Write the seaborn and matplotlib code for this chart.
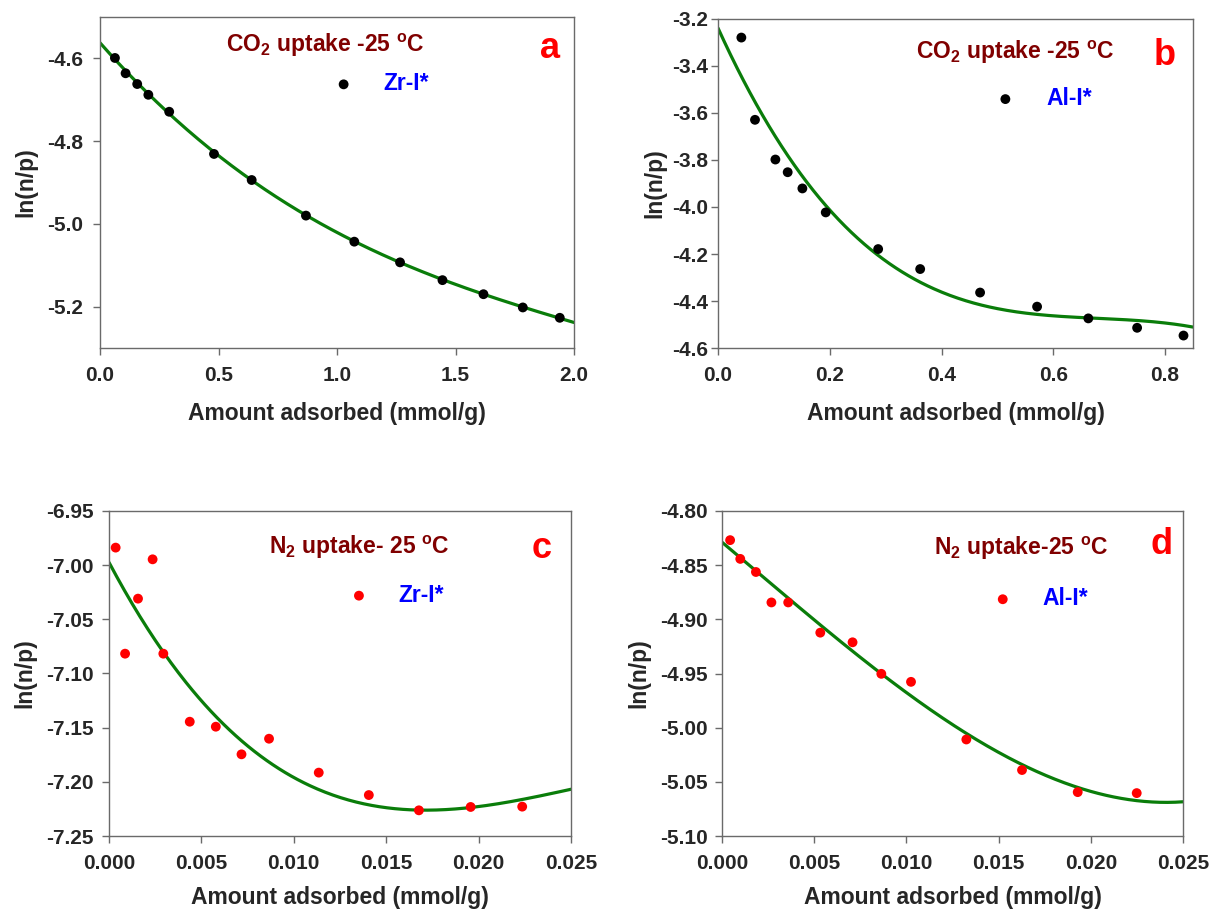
import numpy as np
import pandas as pd
import matplotlib
matplotlib.use("Agg")
import matplotlib.pyplot as plt
import seaborn as sns

# ---------------- data ----------------
a_x = [0.063, 0.108, 0.157, 0.204, 0.292, 0.481, 0.640, 0.869, 1.073, 1.266, 1.445, 1.618, 1.784, 1.940]
a_y = [-4.599, -4.636, -4.662, -4.688, -4.729, -4.831, -4.894, -4.980, -5.043, -5.093, -5.136, -5.170, -5.202, -5.227]
a_fit_x = [0.0, 0.25, 0.5, 0.75, 1.0, 1.25, 1.5, 1.75, 2.0]
a_fit_y = [-4.563, -4.708, -4.840, -4.935, -5.020, -5.089, -5.147, -5.195, -5.238]

b_x = [0.0418, 0.0662, 0.1027, 0.1247, 0.151, 0.1928, 0.2866, 0.3618, 0.469, 0.571, 0.6627, 0.750, 0.833]
b_y = [-3.279, -3.629, -3.798, -3.852, -3.921, -4.023, -4.179, -4.264, -4.364, -4.424, -4.474, -4.514, -4.547]
b_fit_x = [0.0, 0.05, 0.1, 0.15, 0.2, 0.25, 0.3, 0.35, 0.4, 0.45, 0.5, 0.55, 0.6, 0.65, 0.7, 0.75, 0.8, 0.85]
b_fit_y = [-3.257, -3.469, -3.674, -3.858, -4.020, -4.133, -4.240, -4.310, -4.367, -4.405, -4.430,
           -4.447, -4.459, -4.467, -4.476, -4.484, -4.494, -4.513]

c_x = [0.00036, 0.00087, 0.00157, 0.00236, 0.00294, 0.00437, 0.00578, 0.00717, 0.00866, 0.01135,
       0.01406, 0.01677, 0.01957, 0.02236]
c_y = [-6.9838, -7.0817, -7.0309, -6.9946, -7.0817, -7.1445, -7.1491, -7.1746, -7.1602, -7.1915,
       -7.2122, -7.2263, -7.2232, -7.2229]
c_fit_x = [0.0, 0.00294, 0.005, 0.0075, 0.010, 0.0125, 0.015, 0.0175, 0.020, 0.0225, 0.025]
c_fit_y = [-6.9962, -7.0817, -7.126, -7.167, -7.196, -7.213, -7.222, -7.2263, -7.2248, -7.2171, -7.2054]

d_x = [0.00044, 0.00099, 0.00184, 0.00268, 0.00359, 0.00533, 0.00708, 0.00864, 0.01025, 0.01325,
       0.01627, 0.01929, 0.02249]
d_y = [-4.8269, -4.8442, -4.8563, -4.8844, -4.8844, -4.9123, -4.9212, -4.9503, -4.9577, -5.0109,
       -5.0391, -5.0595, -5.0604]
d_fit_x = [0.0, 0.00184, 0.00359, 0.00864, 0.01325, 0.01627, 0.020, 0.025]
d_fit_y = [-4.8285, -4.855, -4.882, -4.948, -5.006, -5.036, -5.057, -5.0688]

titles = [r"CO$_{2}$ uptake -25 $^{o}$C", r"CO$_{2}$ uptake -25 $^{o}$C",
          r"N$_{2}$ uptake- 25 $^{o}$C", r"N$_{2}$ uptake-25 $^{o}$C"]
letters = ["a", "b", "c", "d"]
legend_labels = ["Zr-I*", "Al-I*", "Zr-I*", "Al-I*"]

# ---------------- style ----------------
sns.set_style("white")
plt.rcParams["font.family"] = ["Liberation Sans", "DejaVu Sans"]
plt.rcParams["font.weight"] = "bold"
plt.rcParams["mathtext.fontset"] = "custom"
plt.rcParams["mathtext.rm"] = "Liberation Sans:bold"
plt.rcParams["mathtext.it"] = "Liberation Sans:bold"
plt.rcParams["mathtext.bf"] = "Liberation Sans:bold"
plt.rcParams["mathtext.default"] = "rm"

W, H = 1211, 910
fig = plt.figure(figsize=(W / 100, H / 100), dpi=100)

# axes boxes in pixels: left, top, right, bottom
boxes = [(100, 17, 574, 348), (718, 19, 1193, 348), (109, 511, 571, 836), (722, 511, 1183, 836)]

panels = [
    dict(x=a_x, y=a_y, fx=a_fit_x, fy=a_fit_y, deg=3, color="black",
         xlim=(0, 2.0), ylim=(-5.3, -4.5), xt=[0, 0.5, 1.0, 1.5, 2.0], xfmt="%.1f",
         yt=[-4.6, -4.8, -5.0, -5.2], yfmt="%.1f", ypad=7, xlpad=12.5, ylpad=7,
         tpos=(0.476, 0.914), lpos=(0.950, 0.905), dot=(0.514, 0.798), txt=0.597),
    dict(x=b_x, y=b_y, fx=b_fit_x, fy=b_fit_y, deg=3, color="black",
         xlim=(0, 0.85), ylim=(-4.6, -3.2), xt=[0, 0.2, 0.4, 0.6, 0.8], xfmt="%.1f",
         yt=[-3.2, -3.4, -3.6, -3.8, -4.0, -4.2, -4.4, -4.6], yfmt="%.1f", ypad=2, xlpad=12.5, ylpad=4,
         tpos=(0.625, 0.899), lpos=(0.940, 0.890), dot=(0.605, 0.758), txt=0.691),
    dict(x=c_x, y=c_y, fx=c_fit_x, fy=c_fit_y, deg=3, color="red",
         xlim=(0, 0.025), ylim=(-7.25, -6.95), xt=[0, 0.005, 0.010, 0.015, 0.020, 0.025], xfmt="%.3f",
         yt=[-6.95, -7.00, -7.05, -7.10, -7.15, -7.20, -7.25], yfmt="%.2f", ypad=6, xlpad=9, ylpad=7,
         tpos=(0.542, 0.887), lpos=(0.937, 0.885), dot=(0.541, 0.741), txt=0.626),
    dict(x=d_x, y=d_y, fx=d_fit_x, fy=d_fit_y, deg=3, color="red",
         xlim=(0, 0.025), ylim=(-5.10, -4.80), xt=[0, 0.005, 0.010, 0.015, 0.020, 0.025], xfmt="%.3f",
         yt=[-4.80, -4.85, -4.90, -4.95, -5.00, -5.05, -5.10], yfmt="%.2f", ypad=5, xlpad=9, ylpad=7,
         tpos=(0.648, 0.885), lpos=(0.953, 0.897), dot=(0.609, 0.730), txt=0.695),
]

spine_col = "#6a6a6a"
fs_leg = 16.5
for i, (p, (l, t, r, b)) in enumerate(zip(panels, boxes)):
    ax = fig.add_axes([l / W, 1 - b / H, (r - l) / W, (b - t) / H])
    df = pd.DataFrame({"x": p["x"], "y": p["y"]})
    coef = np.polyfit(p["fx"], p["fy"], p["deg"])
    xs = np.linspace(p["xlim"][0], p["xlim"][1], 300)
    fit_df = pd.DataFrame({"x": xs, "y": np.polyval(coef, xs)})
    sns.lineplot(data=fit_df, x="x", y="y", ax=ax, color="#0a7d0a", lw=2.3, zorder=2, legend=False)
    sns.scatterplot(data=df, x="x", y="y", ax=ax, color=p["color"], s=50, edgecolor="none",
                    zorder=3, label=legend_labels[i])
    ax.set_xlim(*p["xlim"])
    ax.set_ylim(*p["ylim"])
    ax.set_xticks(p["xt"])
    ax.set_xticklabels([p["xfmt"] % v for v in p["xt"]])
    ax.set_yticks(p["yt"])
    ax.set_yticklabels([p["yfmt"] % v for v in p["yt"]])
    for s in ax.spines.values():
        s.set_color(spine_col)
        s.set_linewidth(1.0)
    ax.tick_params(axis="both", which="both", direction="out", length=5, width=1,
                   color=spine_col, labelsize=15, bottom=True, left=True, top=False, right=False)
    ax.tick_params(axis="x", pad=8)
    ax.tick_params(axis="y", pad=p["ypad"])
    ax.set_xlabel("Amount adsorbed (mmol/g)", fontsize=16.5, fontweight="bold", labelpad=p["xlpad"])
    ax.set_ylabel("ln(n/p)", fontsize=16.5, fontweight="bold", labelpad=p["ylpad"])
    ax.text(p["tpos"][0], p["tpos"][1], titles[i], transform=ax.transAxes, ha="center", va="center",
            color="#800000", fontsize=16.5, fontweight="bold")
    ax.text(p["lpos"][0], p["lpos"][1], letters[i], transform=ax.transAxes, ha="center", va="center",
            color="red", fontsize=26, fontweight="bold")
    # legend: dot + blue label
    fs_px = fs_leg * 100 / 72
    axw = r - l
    handle_len = 1.0
    pad_txt = (p["txt"] - p["dot"][0]) * axw / fs_px - handle_len / 2
    ax.legend(loc="center left", bbox_to_anchor=(p["dot"][0] - handle_len / 2 * fs_px / axw, p["dot"][1]),
              frameon=False, borderpad=0, borderaxespad=0, handlelength=handle_len,
              handletextpad=pad_txt, labelcolor="blue", markerscale=1.0,
              prop={"weight": "bold", "size": fs_leg})

fig.savefig("out.png", dpi=100)
